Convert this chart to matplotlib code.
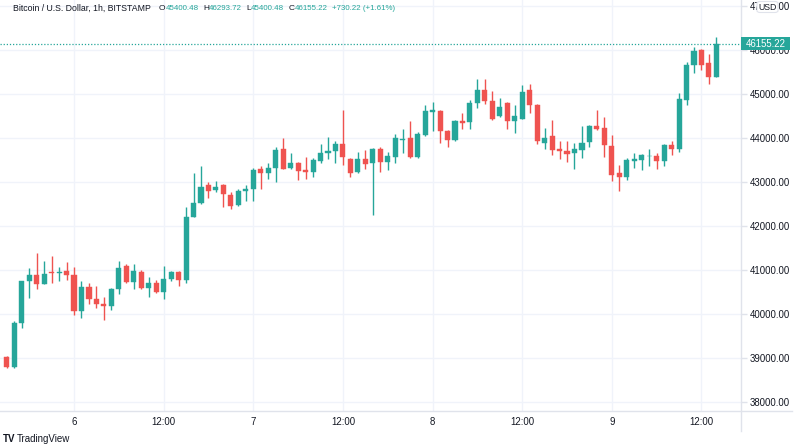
import matplotlib
matplotlib.use("Agg")
import matplotlib.pyplot as plt
import matplotlib.dates as mdates
from matplotlib.patches import Rectangle, FancyBboxPatch
from matplotlib.lines import Line2D
import pandas as pd

plt.rcParams['font.family'] = ['Liberation Sans', 'DejaVu Sans']

# ---------------- data (BTC/USD, 1h, BITSTAMP) ----------------
start_time = "2021-08-05 15:00"
opens = [39030, 38790, 39800, 40745, 40895, 40690, 40955, 40925, 40985, 40895,
         40075, 40620, 40335, 40230, 40190, 40560, 41090, 40730, 40955, 40600,
         40700, 40510, 40790, 40955, 40775, 42215, 42535, 42930, 42820, 42945,
         42715, 42470, 42795, 42840, 43290, 43215, 43320, 43762, 43323, 43440,
         43275, 43235, 43490, 43672, 43705, 43870, 43535, 43230, 43535, 43430,
         43760, 43460, 43580, 43950, 44005, 43580, 44070, 44600, 44627, 44172,
         43960, 44400, 44370, 44810, 45098, 44840, 44505, 44810, 44385, 44445,
         45098, 44765, 43900, 44050, 43760, 43717, 43672, 43735, 43915, 44280,
         44233, 43824, 43200, 43125, 43490, 43505, 43590, 43596, 43475, 43853,
         43762, 44870, 45675, 46009, 45706, 45400.48]
highs = [39050, 39840, 40750, 41050, 41395, 41200, 41320, 41077, 41183, 41062,
         40758, 40700, 40637, 40380, 40600, 41213, 41138, 41138, 40990, 40835,
         40774, 41092, 40970, 40970, 42428, 43202, 43368, 43004, 43034, 42960,
         42777, 42852, 42943, 43323, 43368, 43430, 43808, 44006, 43671, 43460,
         43566, 43550, 43869, 44022, 43930, 44643, 43560, 43687, 43733, 43780,
         43790, 43687, 44097, 44204, 44386, 44140, 44763, 44825, 44650, 44190,
         44416, 44582, 44870, 45356, 45341, 45068, 44916, 44830, 44750, 45205,
         45235, 44790, 44233, 44416, 43945, 43945, 43885, 44279, 44300, 44643,
         44477, 44067, 43398, 43551, 43657, 43630, 43762, 43671, 43870, 43930,
         45023, 45735, 46070, 46020, 45918, 46293.72]
lows = [38760, 38760, 39670, 40360, 40560, 40680, 40700, 40744, 40774, 39970,
        39909, 40228, 40137, 39863, 40100, 40455, 40700, 40562, 40562, 40394,
        40471, 40334, 40750, 40644, 40699, 42200, 42510, 42640, 42777, 42442,
        42397, 42450, 42579, 42579, 42838, 43079, 43004, 43290, 43307, 43050,
        43079, 43125, 43430, 43535, 43444, 43398, 43125, 43200, 43307, 42245,
        43232, 43277, 43444, 43671, 43560, 43560, 44060, 44172, 43885, 43808,
        43940, 44204, 44218, 44689, 44780, 44420, 44477, 44204, 44127, 44430,
        44568, 43869, 43748, 43612, 43535, 43460, 43293, 43551, 43808, 44188,
        43581, 43034, 42793, 43050, 43323, 43277, 43368, 43293, 43368, 43626,
        43687, 44750, 45492, 45553, 45235, 45400.48]
closes = [38790, 39800, 40745, 40895, 40685, 40910, 40925, 40950, 40890, 40075,
          40620, 40340, 40230, 40190, 40560, 41045, 40730, 40970, 40600, 40700,
          40510, 40790, 40955, 40775, 42200, 42533, 42885, 42805, 42900, 42730,
          42460, 42790, 42850, 43277, 43215, 43320, 43730, 43307, 43444, 43250,
          43230, 43505, 43670, 43715, 43870, 43565, 43215, 43535, 43415, 43760,
          43460, 43595, 44005, 43975, 43580, 44097, 44613, 44640, 44172, 43960,
          44386, 44355, 44810, 45098, 44840, 44430, 44718, 44400, 44507, 45053,
          44765, 43945, 44006, 43733, 43703, 43642, 43748, 43885, 44279, 44218,
          43853, 43170, 43125, 43505, 43535, 43612, 43600, 43475, 43840, 43762,
          44887, 45660, 45993, 45674, 45400, 46155.22]

tick_times = ["2021-08-06 00:00", "2021-08-06 12:00", "2021-08-07 00:00", "2021-08-07 12:00",
              "2021-08-08 00:00", "2021-08-08 12:00", "2021-08-09 00:00", "2021-08-09 12:00"]
tick_labels = ["6", "12:00", "7", "12:00", "8", "12:00", "9", "12:00"]
price_ticks = [38000, 39000, 40000, 41000, 42000, 43000, 44000, 45000, 46000, 47000]
header_title = "Bitcoin / U.S. Dollar, 1h, BITSTAMP"
header_ohlc = [("O", "45400.48"), ("H", "46293.72"), ("L", "45400.48"), ("C", "46155.22")]
header_change = "+730.22 (+1.61%)"
last_price = 46155.22

# ---------------- style ----------------
UP = "#26a69a"
DOWN = "#ef5350"
TXT = "#131722"
GRID = "#f0f3fa"
BORDER = "#e0e3eb"

W, H = 800, 445
fig = plt.figure(figsize=(W / 100, H / 100), dpi=100)
fig.patch.set_facecolor("white")

def fx(x):
    return x / W

def fy(y):
    return 1 - y / H

ax_right, ax_bottom = 741, 411
ax = fig.add_axes([0, fy(ax_bottom), fx(ax_right), ax_bottom / H])
ax.set_facecolor("white")

times = pd.date_range(start_time, periods=len(opens), freq="h")
xs = mdates.date2num(times.to_pydatetime())
hour = 1 / 24.0

colors = [UP if c >= o else DOWN for o, c in zip(opens, closes)]
ax.vlines(xs, lows, highs, colors=colors, linewidth=1, zorder=3)
bottoms = [min(o, c) for o, c in zip(opens, closes)]
heights = [max(abs(c - o), 12) for o, c in zip(opens, closes)]
ax.bar(xs, heights, bottom=bottoms, width=0.68 * hour, color=colors,
       edgecolor=colors, linewidth=0.3, zorder=4)

# axes limits (pixel-matched)
t0 = xs[0]
ax.set_xlim(t0 - 0.91 * hour, t0 + 98.29 * hour)
ax.set_ylim(37792, 47146)

# grid & ticks
tick_x = mdates.date2num(pd.to_datetime(tick_times).to_pydatetime())
ax.set_xticks(tick_x)
ax.set_xticklabels(tick_labels)
ax.set_yticks(price_ticks)
ax.set_yticklabels([f"{p:.2f}" for p in price_ticks])
ax.grid(True, color=GRID, linewidth=1, zorder=0)
ax.set_axisbelow(True)

ax.yaxis.tick_right()
ax.tick_params(axis="y", length=4, width=1, color=BORDER, pad=2.5,
               labelsize=6.9, labelcolor=TXT)
ax.tick_params(axis="x", length=0, pad=4, labelsize=6.9, labelcolor=TXT)
for s in ax.spines.values():
    s.set_visible(False)

# last price dotted line
ax.axhline(last_price, color=UP, linestyle=(0, (1, 1.5)), linewidth=0.9, zorder=5)

# separators
fig.add_artist(Line2D([fx(ax_right), fx(ax_right)], [fy(0), fy(431)], color=BORDER, linewidth=1))
fig.add_artist(Line2D([0, fx(792)], [fy(ax_bottom), fy(ax_bottom)], color=BORDER, linewidth=1))

# price label box
yl = fy(ax_bottom) + (last_price - 37792) / (47146 - 37792) * (ax_bottom / H)
bh = 13 / H
fig.add_artist(Rectangle((fx(741), yl - bh / 2), fx(49), bh, facecolor=UP, edgecolor="none",
                         transform=fig.transFigure, zorder=10))
fig.text(fx(765.5), yl, f"{last_price:.2f}", color="white", fontsize=6.9,
         ha="center", va="center", zorder=11)

# USD badge
fig.add_artist(FancyBboxPatch((fx(757), fy(12.5)), fx(21), 11 / H,
                              boxstyle="round,pad=0,rounding_size=0.004",
                              facecolor="white", edgecolor=BORDER, linewidth=0.8,
                              transform=fig.transFigure, zorder=10))
fig.text(fx(767.5), fy(7), "USD", color=TXT, fontsize=6.3, ha="center", va="center", zorder=11)

# header (placed piece by piece, measured)
renderer = fig.canvas.get_renderer()
hy = fy(8)

def put(x, s, color, fs):
    t = fig.text(fx(x), hy, s, color=color, fontsize=fs, ha="left", va="center")
    bb = t.get_window_extent(renderer=renderer)
    return x + bb.width

put(13, header_title, TXT, 6.3)
x = 159
for lab, val in header_ohlc:
    x = put(x, lab, TXT, 6.0) + 0.3
    x = put(x, val, UP, 5.7) + 4
put(x, header_change, UP, 5.7)

# TradingView logo
fig.text(fx(3), fy(439), "TV", color=TXT, fontsize=7, fontweight="bold", ha="left", va="center")
fig.text(fx(17), fy(439), "TradingView", color=TXT, fontsize=7, ha="left", va="center")

fig.savefig("out.png", dpi=100, facecolor="white")
